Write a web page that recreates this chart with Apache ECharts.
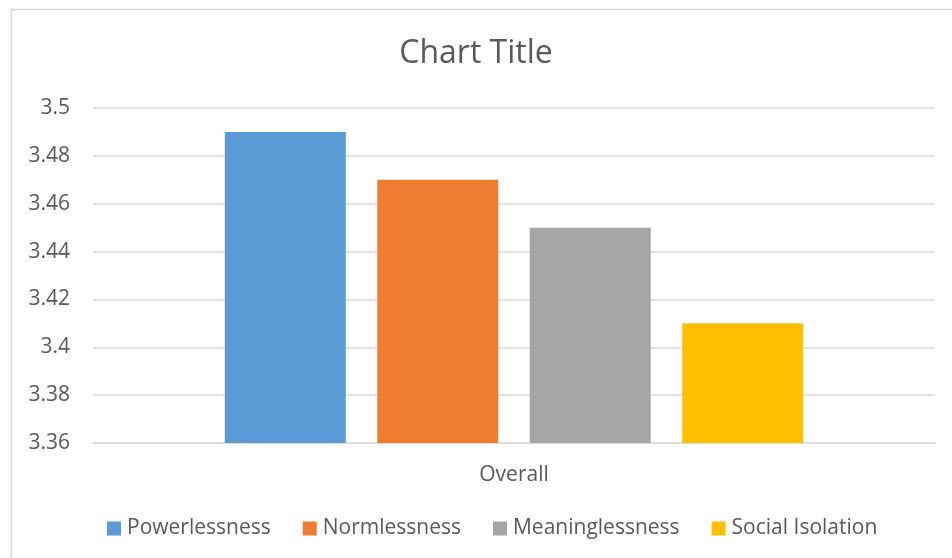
<!DOCTYPE html>
<html><head><meta charset="utf-8">
<script src="https://cdn.jsdelivr.net/npm/echarts@6/dist/echarts.min.js"></script>
<style>html,body{margin:0;padding:0;background:#fff}#c{width:952px;height:558px}</style>
</head><body><div id="c"></div>
<script>
const categories = ['Overall'];
const seriesNames = ['Powerlessness', 'Normlessness', 'Meaninglessness', 'Social Isolation'];
const seriesValues = [[3.49], [3.47], [3.45], [3.41]];
const seriesColors = ['#5b9bd5', '#ed7d31', '#a5a5a5', '#ffc000'];
const yTicks = [3.36, 3.38, 3.40, 3.42, 3.44, 3.46, 3.48, 3.5];

const font = '"Open Sans", "Liberation Sans", sans-serif';
const chart = echarts.init(document.getElementById('c'));
chart.setOption({
  animation: false,
  backgroundColor: '#fff',
  graphic: [{type: 'rect', shape: {x: 11.5, y: 9.5, width: 960, height: 570}, style: {fill: 'none', stroke: '#d9d9d9', lineWidth: 1.5}, silent: true}],
  title: {text: 'Chart Title', left: 'center', top: 33, textStyle: {color: '#595959', fontSize: 32, fontWeight: 'normal', fontFamily: font}},
  grid: {left: 93, right: 17, top: 108, bottom: 115, containLabel: false},
  legend: {bottom: 14, left: 102, itemWidth: 14, itemHeight: 14, itemGap: 32, icon: 'rect',
    textStyle: {color: '#595959', fontSize: 21, fontFamily: font, padding: [0, 0, 0, 1]}, data: seriesNames},
  xAxis: {type: 'category', data: categories, axisLine: {lineStyle: {color: '#d9d9d9', width: 1.5}}, axisTick: {show: false},
    axisLabel: {color: '#595959', fontSize: 21, fontFamily: font, margin: 22}},
  yAxis: {type: 'value', min: 3.36, max: 3.5, interval: 0.02, axisLine: {show: false}, axisTick: {show: false},
    splitLine: {lineStyle: {color: '#d9d9d9', width: 1.5}},
    axisLabel: {color: '#595959', fontSize: 21, fontFamily: font, margin: 23,
      formatter: v => { const r = Math.round(v * 100) / 100; return String(r); }}},
  series: seriesNames.map((n, i) => ({name: n, type: 'bar', data: seriesValues[i], barWidth: 121, barGap: '26%',
    itemStyle: {color: seriesColors[i]}}))
});
</script></body></html>
